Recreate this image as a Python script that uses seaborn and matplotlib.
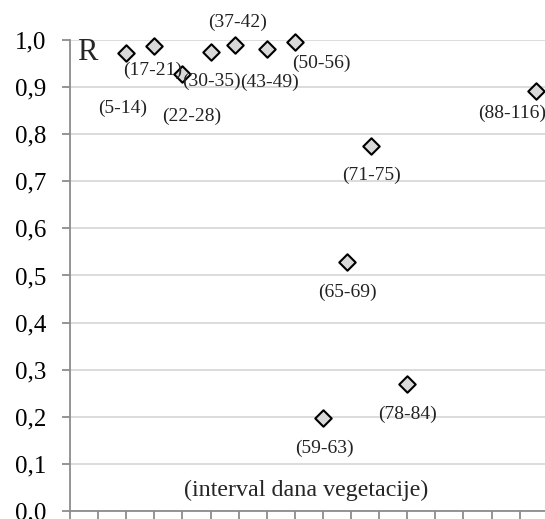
import numpy as np
import pandas as pd
import matplotlib
import matplotlib.pyplot as plt
from matplotlib.ticker import FuncFormatter, MultipleLocator
import seaborn as sns
matplotlib.use('Agg')

# intervals of vegetation days and correlation coefficient R
intervals = ["(5-14)", "(17-21)", "(22-28)", "(30-35)", "(37-42)", "(43-49)",
             "(50-56)", "(59-63)", "(65-69)", "(71-75)", "(78-84)", "(88-116)"]
end_day = [14, 21, 28, 35, 41, 49, 56, 63, 69, 75, 84, 116]
r_values = [0.972, 0.987, 0.928, 0.975, 0.990, 0.981, 0.995, 0.197, 0.529, 0.775, 0.270, 0.892]
# label offsets in pixels (dx, dy) relative to marker
label_dx = [-4, -2, 9, 1, 3, 3, 27, 1, 0, 0, 0, -24]
label_dy = [-55, -24, -42, -30, 22, -33, -21, -30, -31, -29, -31, -22]

df = pd.DataFrame({"interval": intervals, "day": end_day, "R": r_values})

sns.set_theme(style="white")
plt.rcParams['font.family'] = ['Liberation Serif', 'DejaVu Serif']

W, H = 545, 519
fig = plt.figure(figsize=(W / 100, H / 100), dpi=100)
ax = fig.add_axes([70 / W, 1 - 511 / H, 1 - 70 / W, 471 / H])

sns.scatterplot(data=df, x="day", y="R", marker="D", s=70, color="#d9d9d9",
                edgecolor="black", linewidth=1.5, ax=ax, zorder=3, clip_on=False)

for lab, x, y, dx, dy in zip(intervals, end_day, r_values, label_dx, label_dy):
    ax.annotate(lab, (x, y), xytext=(dx, dy), textcoords="offset pixels",
                ha="center", va="center", fontsize=14, color="#222222")

ax.set_xlim(0, 118.3)
ax.set_ylim(0, 1.0)
ax.xaxis.set_major_locator(MultipleLocator(7))
ax.yaxis.set_major_locator(MultipleLocator(0.1))
ax.yaxis.set_major_formatter(FuncFormatter(lambda v, p: f"{v:.1f}".replace(".", ",")))
ax.set_xticklabels([])
ax.set_xlabel("")
ax.set_ylabel("")
ax.grid(axis="y", color="#d9d9d9", linewidth=1.3)
ax.set_axisbelow(True)

for s in ["top", "right"]:
    ax.spines[s].set_visible(False)
for s in ["left", "bottom"]:
    ax.spines[s].set_color("#8c8c8c")
    ax.spines[s].set_linewidth(1.3)
ax.tick_params(axis="both", which="major", direction="out", length=6, width=1.3,
               color="#8c8c8c", left=True, bottom=True)
ax.tick_params(axis="y", labelsize=18, pad=11, labelcolor="black")

# texts placed in pixel coords measured from top-left
ax.text(77, H - 52, "R", transform=None, fontsize=22, ha="left", va="center")
ax.text(306, H - 490, "(interval dana vegetacije)", transform=None, fontsize=17.3,
        ha="center", va="center")

fig.savefig("out.png", dpi=100)
